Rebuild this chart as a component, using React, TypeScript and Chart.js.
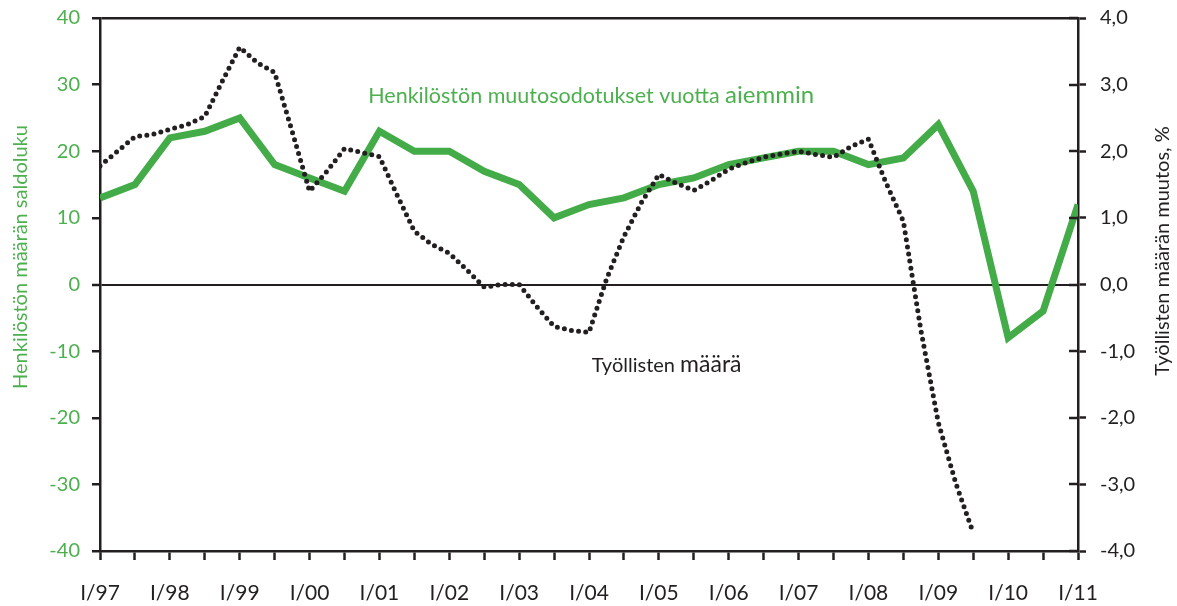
import React, { useEffect, useRef } from "react";
import { Chart, registerables } from "chart.js";

Chart.register(...registerables);

// ---- data ----
const FIRST_YEAR = 1997;
const xTickLabels = [
  "I/97", "I/98", "I/99", "I/00", "I/01", "I/02", "I/03", "I/04",
  "I/05", "I/06", "I/07", "I/08", "I/09", "I/10", "I/11",
];
// Henkilöstön muutosodotukset vuotta aiemmin (half-yearly, left axis)
const staffExpectations = [
  13, 15, 22, 23, 25, 18, 16, 14, 23, 20, 20, 17, 15, 10, 12,
  13, 15, 16, 18, 19, 20, 20, 18, 19, 24, 14, -8, -4, 12,
];
// Työllisten määrän muutos, % (quarterly, right axis)
const employmentChange = [
  1.78, 2.0, 2.22, 2.25,
  2.33, 2.4, 2.52, 3.05,
  3.56, 3.33, 3.18, 2.3,
  1.4, 1.7, 2.04, 1.98,
  1.92, 1.35, 0.8, 0.6,
  0.47, 0.22, -0.04, 0.0,
  0.0, -0.33, -0.63, -0.69,
  -0.72, 0.08, 0.72, 1.23,
  1.65, 1.52, 1.41, 1.56,
  1.73, 1.83, 1.91, 1.96,
  2.0, 1.95, 1.91, 2.07,
  2.18, 1.53, 0.95, -0.68,
  -2.07, -2.98, -3.73,
];
const leftAxisTitle = "Henkilöstön määrän saldoluku";
const rightAxisTitle = "Työllisten määrän muutos, %";
const staffLabelParts = ["Henkilöstön muutosodotukset vuotta ", "aiemmin"];
const employmentLabelParts = ["Työllisten ", "määrä"];

const GREEN = "#43ab47";
const TEXT_GREEN = "#4cb04e";
const INK = "#231f20";
const FONT = "Lato, 'Open Sans', sans-serif";

const annotationPlugin = {
  id: "annotations",
  afterDraw(chart: any) {
    const { ctx, chartArea, scales } = chart;
    const x = scales.x;
    const y = scales.y;
    const y1 = scales.y1;
    ctx.save();
    // inner half of right axis ticks
    ctx.strokeStyle = INK;
    ctx.lineWidth = 2.5;
    y1.ticks.forEach((_t: any, i: number) => {
      const py = Math.round(y1.getPixelForTick(i));
      ctx.beginPath();
      ctx.moveTo(chartArea.right - 9, py);
      ctx.lineTo(chartArea.right, py);
      ctx.stroke();
    });

    // series labels
    const drawParts = (parts: string[], sizes: number[], color: string, xv: number, yv: number) => {
      let px = x.getPixelForValue(xv);
      const py = y.getPixelForValue(yv);
      ctx.fillStyle = color;
      ctx.textAlign = "left";
      ctx.textBaseline = "alphabetic";
      parts.forEach((p, i) => {
        ctx.font = `${sizes[i]}px ${FONT}`;
        ctx.fillText(p, px, py);
        px += ctx.measureText(p).width;
      });
    };
    drawParts(staffLabelParts, [21.5, 24], TEXT_GREEN, 2000.84, 27.3);
    drawParts(employmentLabelParts, [20, 23], INK, 2004.04, -13.2);

    // axis titles (rotated, reading upward)
    ctx.font = `20px ${FONT}`;
    ctx.textAlign = "center";
    ctx.textBaseline = "middle";
    ctx.save();
    ctx.translate(21, 257);
    ctx.rotate(-Math.PI / 2);
    ctx.fillStyle = TEXT_GREEN;
    ctx.fillText(leftAxisTitle, 0, 0);
    ctx.restore();
    ctx.save();
    ctx.translate(1163, 251);
    ctx.rotate(-Math.PI / 2);
    ctx.fillStyle = INK;
    ctx.fillText(rightAxisTitle, 0, 0);
    ctx.restore();
    ctx.restore();
  },
};

export default function App() {
  const canvasRef = useRef<HTMLCanvasElement | null>(null);

  useEffect(() => {
    if (!canvasRef.current) return;
    const halfYearTicks = Array.from(
      { length: (xTickLabels.length - 1) * 2 + 1 },
      (_, i) => ({ value: FIRST_YEAR + i / 2 })
    );
    const chart = new Chart(canvasRef.current, {
      type: "line",
      data: {
        datasets: [
          {
            label: "Työllisten määrä",
            data: employmentChange.map((v, i) => ({ x: FIRST_YEAR + i / 4, y: v })),
            yAxisID: "y1",
            borderColor: INK,
            borderWidth: 5,
            borderDash: [0, 7.2],
            borderCapStyle: "round",
            borderJoinStyle: "round",
            pointRadius: 0,
            tension: 0,
            fill: false,
            order: 0,
          },
          {
            label: "Henkilöstön muutosodotukset vuotta aiemmin",
            data: staffExpectations.map((v, i) => ({ x: FIRST_YEAR + i / 2, y: v })),
            yAxisID: "y",
            borderColor: GREEN,
            borderWidth: 7,
            borderJoinStyle: "miter",
            borderCapStyle: "butt",
            pointRadius: 0,
            tension: 0,
            fill: false,
            order: 1,
          },
        ],
      },
      options: {
        animation: false,
        responsive: true,
        maintainAspectRatio: false,
        layout: { padding: { top: 18, left: 0, right: 0, bottom: 0 } },
        plugins: { legend: { display: false }, tooltip: { enabled: false } },
        scales: {
          x: {
            type: "linear",
            min: FIRST_YEAR,
            max: FIRST_YEAR + xTickLabels.length - 1,
            afterBuildTicks: (scale: any) => {
              scale.ticks = halfYearTicks.map((t) => ({ ...t }));
            },
            ticks: {
              autoSkip: false,
              maxRotation: 0,
              minRotation: 0,
              padding: 21,
              color: INK,
              font: { family: FONT, size: 21 },
              callback: (v: any) => {
                const n = Number(v) - FIRST_YEAR;
                return Number.isInteger(n) ? xTickLabels[n] : "";
              },
            },
            grid: {
              drawOnChartArea: false,
              drawTicks: true,
              tickLength: 9,
              tickColor: INK,
              tickWidth: 2.5,
            },
            border: { display: true, color: INK, width: 2.5 },
            afterFit: (s: any) => {
              s.height = 55;
              s.paddingLeft = 0;
              s.paddingRight = 0;
            },
          },
          y: {
            position: "left",
            min: -40,
            max: 40,
            ticks: {
              stepSize: 10,
              padding: 12,
              color: TEXT_GREEN,
              font: { family: FONT, size: 20 },
            },
            grid: {
              drawOnChartArea: true,
              drawTicks: true,
              tickLength: 8,
              tickColor: INK,
              tickWidth: 2.5,
              color: (c: any) =>
                c.tick && (c.tick.value === 0 || c.tick.value === 40) ? INK : "rgba(0,0,0,0)",
              lineWidth: (c: any) => (c.tick && c.tick.value === 0 ? 2 : 2.5),
            },
            border: { display: true, color: INK, width: 2.5 },
            afterFit: (s: any) => {
              s.width = 100;
              s.paddingTop = 0;
              s.paddingBottom = 0;
            },
          },
          y1: {
            position: "right",
            min: -4,
            max: 4,
            ticks: {
              stepSize: 1,
              padding: 14,
              color: INK,
              font: { family: FONT, size: 20 },
              callback: (v: any) => Number(v).toFixed(1).replace(".", ","),
            },
            grid: {
              drawOnChartArea: false,
              drawTicks: true,
              tickLength: 8,
              tickColor: INK,
              tickWidth: 2.5,
            },
            border: { display: true, color: INK, width: 2.5 },
            afterFit: (s: any) => {
              s.width = 99;
              s.paddingTop = 0;
              s.paddingBottom = 0;
            },
          },
        },
      },
      plugins: [annotationPlugin],
    } as any);
    return () => chart.destroy();
  }, []);

  return (
    <div style={{ position: "absolute", left: 0, top: 0, width: 1177, height: 606, background: "#fff" }}>
      <canvas ref={canvasRef} />
    </div>
  );
}
